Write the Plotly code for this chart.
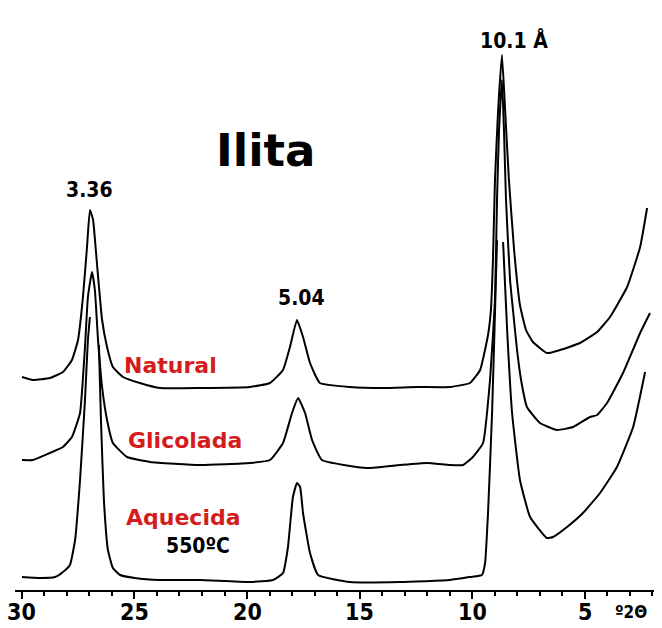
import plotly.graph_objects as go

# 2-theta (degrees) and relative intensity (arbitrary units)
nat_x = [30.00, 29.51, 28.76, 28.18, 27.78, 27.51, 27.29, 27.11, 26.98, 26.84, 26.67, 26.44, 26.22, 25.96,
         25.51, 24.76, 23.87, 22.09, 19.87, 18.98, 18.40, 18.09, 17.78, 17.51, 17.20, 16.76, 15.42, 13.96,
         12.44, 10.98, 10.09, 9.64, 9.29, 9.16, 9.07, 8.98, 8.84, 8.67, 8.53, 8.36, 8.13, 7.87, 7.60,
         7.29, 6.67, 6.09, 5.20, 4.44, 3.87, 3.11, 2.53, 2.22]
nat_y = [213, 210, 212, 218, 230, 250, 293, 343, 380, 370, 327, 270, 243, 223,
         213, 207, 202, 202, 203, 207, 220, 243, 270, 253, 227, 207, 203, 202,
         203, 203, 207, 220, 255, 280, 330, 410, 480, 535, 480, 410, 340, 285, 260,
         248, 237, 240, 247, 258, 273, 303, 343, 382]

gli_x = [30.00, 29.51, 28.76, 28.18, 27.78, 27.42, 27.20, 27.07, 26.89, 26.76, 26.62, 26.44, 26.22, 25.96,
         25.33, 24.31, 22.09, 19.87, 18.98, 18.40, 18.00, 17.73, 17.42, 17.11, 16.67, 14.67, 13.20, 12.00,
         10.98, 10.40, 9.96, 9.51, 9.20, 8.98, 8.89, 8.80, 8.67, 8.58, 8.49, 8.31, 8.18, 8.00, 7.82, 7.56,
         6.98, 6.22, 5.51, 4.76, 4.44, 4.00, 3.29, 2.53, 2.09]
gli_y = [130, 130, 137, 143, 153, 177, 243, 293, 318, 300, 250, 203, 170, 147,
         133, 128, 125, 127, 130, 147, 177, 192, 177, 150, 130, 122, 125, 127,
         125, 125, 133, 147, 210, 290, 390, 460, 510, 460, 390, 310, 280, 240, 210, 183,
         167, 160, 163, 173, 175, 187, 217, 257, 277]

aq_x = [30.00, 29.20, 28.53, 28.18, 27.87, 27.64, 27.42, 27.20, 27.07, 26.98, None,
        26.58, 26.49, 26.36, 26.18, 25.96, 25.64, 24.98, 23.87, 22.09, 19.87, 18.84, 18.40, 18.18,
        17.96, 17.78, 17.64, 17.51, 17.20, 16.84, 15.42, 13.20, 10.98, 10.09, 9.56, 9.42, 9.29,
        9.11, 8.98, 8.89, None,
        8.62, 8.44, 8.22, 7.87, 7.42, 6.67, 6.40, 5.78, 5.07, 4.31, 3.56, 2.84, 2.31]
aq_y = [13, 12, 13, 18, 25, 50, 110, 190, 250, 273, None,
        245, 170, 90, 40, 22, 15, 12, 10, 10, 8, 10, 17, 43,
        93, 107, 103, 77, 37, 15, 8, 8, 10, 13, 15, 27, 77,
        177, 277, 350, None,
        348, 260, 177, 110, 73, 52, 53, 63, 77, 97, 123, 163, 218]

major_ticks = [30, 25, 20, 15, 10, 5]
tick_labels = ["30", "25", "20", "15", "10", "5"]
axis_unit = "º2Θ"

peak_labels = ["3.36", "5.04", "10.1 Å"]
peak_pos = [(26.98, 400), (17.56, 292), (8.13, 550)]
sample_labels = ["Natural", "Glicolada", "Aquecida"]
sample_pos = [(23.42, 225), (22.76, 150), (22.80, 73)]

fig = go.Figure()
for xs, ys, name in [(nat_x, nat_y, "Natural"), (gli_x, gli_y, "Glicolada"), (aq_x, aq_y, "Aquecida")]:
    fig.add_trace(go.Scatter(x=xs, y=ys, mode="lines", name=name,
                             line=dict(color="black", width=2, shape="spline", smoothing=0.4),
                             connectgaps=False, showlegend=False, hoverinfo="x+y"))

narrow = "DejaVu Sans Condensed, Liberation Sans Narrow, Arial Narrow, sans-serif"
heavy = "DejaVu Sans, Arial, sans-serif"

for txt, (x, y) in zip(peak_labels, peak_pos):
    fig.add_annotation(x=x, y=y, text="<b>%s</b>" % txt, showarrow=False,
                       font=dict(family=narrow, size=21, color="black"))
for txt, (x, y) in zip(sample_labels, sample_pos):
    fig.add_annotation(x=x, y=y, text="<b>%s</b>" % txt, showarrow=False,
                       font=dict(family=heavy, size=22, color="#d41c1c"))
fig.add_annotation(x=22.18, y=44, text="<b>550ºC</b>", showarrow=False,
                   font=dict(family=narrow, size=21, color="black"))
fig.add_annotation(x=19.16, y=440, text="<b>Ilita</b>", showarrow=False,
                   font=dict(family=heavy, size=45, color="black"))

# plot area is 582 px tall (page adds an 8 px body margin)
AREA_H = 582
for v, t in zip(major_ticks, tick_labels):
    fig.add_annotation(x=v, xref="x", y=-22 / AREA_H, yref="paper", text="<b>%s</b>" % t,
                       showarrow=False, yanchor="middle",
                       font=dict(family=narrow, size=23, color="black"))
fig.add_annotation(x=2.95, xref="x", y=-22 / AREA_H, yref="paper", text="<b>%s</b>" % axis_unit,
                   showarrow=False, yanchor="middle",
                   font=dict(family=narrow, size=17, color="black"))

fig.update_layout(
    width=662, height=628,
    margin=dict(l=7, r=13, t=0, b=628 - AREA_H),
    paper_bgcolor="white", plot_bgcolor="white",
    xaxis=dict(range=[30.31, 1.78], tickvals=major_ticks, showticklabels=False, automargin=False,
               ticks="outside", ticklen=7, tickwidth=2, tickcolor="black",
               showline=True, linecolor="black", linewidth=2, showgrid=False, zeroline=False,
               minor=dict(dtick=1, tick0=0, ticks="outside", ticklen=4, tickwidth=2, tickcolor="black",
                          showgrid=False)),
    yaxis=dict(range=[0, AREA_H], visible=False, showgrid=False, zeroline=False, automargin=False),
)

fig.write_html("out.html")
